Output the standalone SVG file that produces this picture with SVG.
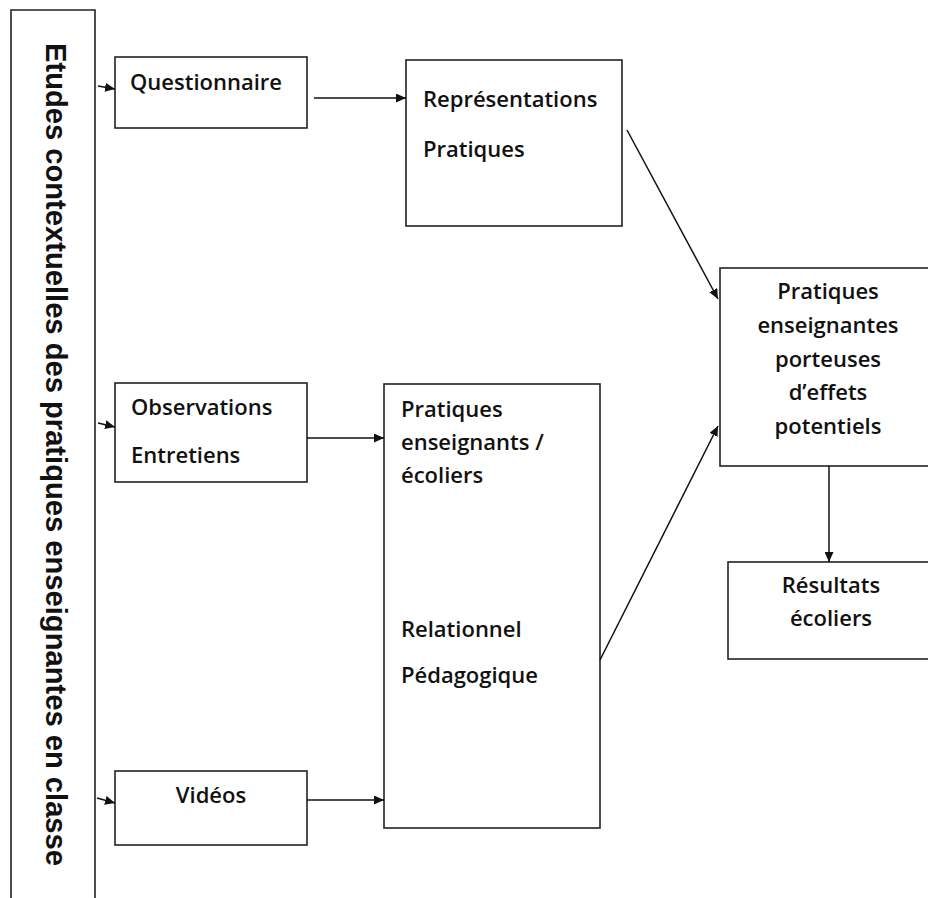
<svg xmlns="http://www.w3.org/2000/svg" width="928" height="898" viewBox="0 0 928 898">
<style>
.box{fill:#fff;stroke:#222;stroke-width:1.6}
.t{font-family:"Open Sans",sans-serif;font-weight:600;font-size:22px;fill:#111}
.c{text-anchor:middle}
.v{font-family:"Liberation Sans",Arial,sans-serif;font-weight:bold;font-size:30px;fill:#111}
.ln{stroke:#111;stroke-width:1.5;fill:none;marker-end:url(#ah)}
</style>
<defs>
<marker id="ah" viewBox="0 0 10 10" refX="10" refY="5" markerWidth="10" markerHeight="9" markerUnits="userSpaceOnUse" orient="auto" preserveAspectRatio="none">
<path d="M0,0 L10,5 L0,10 z" fill="#111"/>
</marker>
</defs>
<rect width="928" height="898" fill="#fff"/>
<g id="etudes">
<path class="box" d="M11,900 L11,10 L95,10 L95,900"/>
<text class="v" transform="translate(46,43) rotate(90)" textLength="823" lengthAdjust="spacingAndGlyphs">Etudes contextuelles des pratiques enseignantes en classe</text>
</g>
<g id="questionnaire">
<rect class="box" x="115" y="57" width="192" height="71"/>
<text class="t" x="130" y="90">Questionnaire</text>
</g>
<g id="representations">
<rect class="box" x="406" y="60" width="216" height="166"/>
<text class="t" x="423" y="107">Représentations</text>
<text class="t" x="423" y="157">Pratiques</text>
</g>
<g id="observations">
<rect class="box" x="115" y="383" width="192" height="99"/>
<text class="t" x="131" y="415">Observations</text>
<text class="t" x="131" y="463">Entretiens</text>
</g>
<g id="videos">
<rect class="box" x="115" y="771" width="192" height="74"/>
<text class="t c" x="211" y="803">Vidéos</text>
</g>
<g id="pratiques-ens-ecoliers">
<rect class="box" x="384" y="384" width="216" height="444"/>
<text class="t" x="401" y="417">Pratiques</text>
<text class="t" x="401" y="450">enseignants /</text>
<text class="t" x="401" y="483">écoliers</text>
<text class="t" x="401" y="637">Relationnel</text>
<text class="t" x="401" y="683">Pédagogique</text>
</g>
<g id="pratiques-effets">
<rect class="box" x="720" y="268" width="212" height="198"/>
<text class="t c" x="828" y="299">Pratiques</text>
<text class="t c" x="828" y="333">enseignantes</text>
<text class="t c" x="828" y="367">porteuses</text>
<text class="t c" x="828" y="400">d’effets</text>
<text class="t c" x="828" y="434">potentiels</text>
</g>
<g id="resultats">
<rect class="box" x="728" y="562" width="204" height="97"/>
<text class="t c" x="831" y="593">Résultats</text>
<text class="t c" x="831" y="626">écoliers</text>
</g>
<g id="connectors">
<line class="ln" x1="98" y1="86" x2="115" y2="89"/>
<line class="ln" x1="98" y1="423" x2="115" y2="427"/>
<line class="ln" x1="97" y1="798" x2="115" y2="803"/>
<line class="ln" x1="314" y1="98" x2="406" y2="98"/>
<line class="ln" x1="307" y1="438" x2="384" y2="438"/>
<line class="ln" x1="307" y1="800" x2="384" y2="800"/>
<line class="ln" x1="627" y1="130" x2="718" y2="299"/>
<line class="ln" x1="600" y1="660" x2="718" y2="426"/>
<line class="ln" x1="829" y1="466" x2="829" y2="562"/>
</g>
</svg>
